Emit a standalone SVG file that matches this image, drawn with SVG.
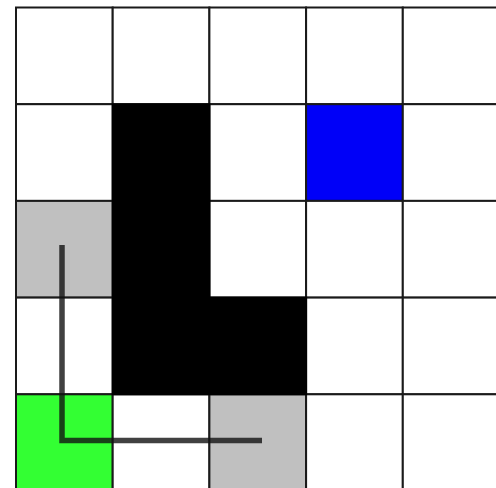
<svg xmlns="http://www.w3.org/2000/svg" width="496" height="488" viewBox="0 0 496 488">
<style>
.c{stroke:#1a1a1a;stroke-width:2}
.w{fill:#fff}
.k{fill:#000}
.b{fill:#0000f8}
.g{fill:#c0c0c0}
.gr{fill:#33ff33}
.path{fill:none;stroke:#111;stroke-opacity:0.8;stroke-width:5.5;stroke-linejoin:miter}
</style>
<rect width="496" height="488" fill="#fff"/>
<g id="cells">
<g id="r0">
<rect class="c w" x="16" y="7.5" width="96.7" height="96.7"/>
<rect class="c w" x="112.7" y="7.5" width="96.7" height="96.7"/>
<rect class="c w" x="209.4" y="7.5" width="96.7" height="96.7"/>
<rect class="c w" x="306.1" y="7.5" width="96.7" height="96.7"/>
<rect class="c w" x="402.8" y="7.5" width="96.7" height="96.7"/>
</g>
<g id="r1">
<rect class="c w" x="16" y="104.2" width="96.7" height="96.7"/>
<rect class="c w" x="209.4" y="104.2" width="96.7" height="96.7"/>
<rect class="c b" x="306.1" y="104.2" width="96.7" height="96.7"/>
<rect class="c w" x="402.8" y="104.2" width="96.7" height="96.7"/>
</g>
<g id="r2">
<rect class="c g" x="16" y="200.9" width="96.7" height="96.7"/>
<rect class="c w" x="209.4" y="200.9" width="96.7" height="96.7"/>
<rect class="c w" x="306.1" y="200.9" width="96.7" height="96.7"/>
<rect class="c w" x="402.8" y="200.9" width="96.7" height="96.7"/>
</g>
<g id="r3">
<rect class="c w" x="16" y="297.6" width="96.7" height="96.7"/>
<rect class="c w" x="306.1" y="297.6" width="96.7" height="96.7"/>
<rect class="c w" x="402.8" y="297.6" width="96.7" height="96.7"/>
</g>
<g id="r4">
<rect class="c gr" x="16" y="394.3" width="96.7" height="96.7"/>
<rect class="c w" x="112.7" y="394.3" width="96.7" height="96.7"/>
<rect class="c g" x="209.4" y="394.3" width="96.7" height="96.7"/>
<rect class="c w" x="306.1" y="394.3" width="96.7" height="96.7"/>
<rect class="c w" x="402.8" y="394.3" width="96.7" height="96.7"/>
</g>
<g id="wall">
<path class="k" d="M111.7 103.2H210.4V296.6H307.1V395.3H111.7Z"/>
</g>
</g>
<g id="connectors">
<path class="path" d="M62 245V440.5H262"/>
</g>
</svg>
